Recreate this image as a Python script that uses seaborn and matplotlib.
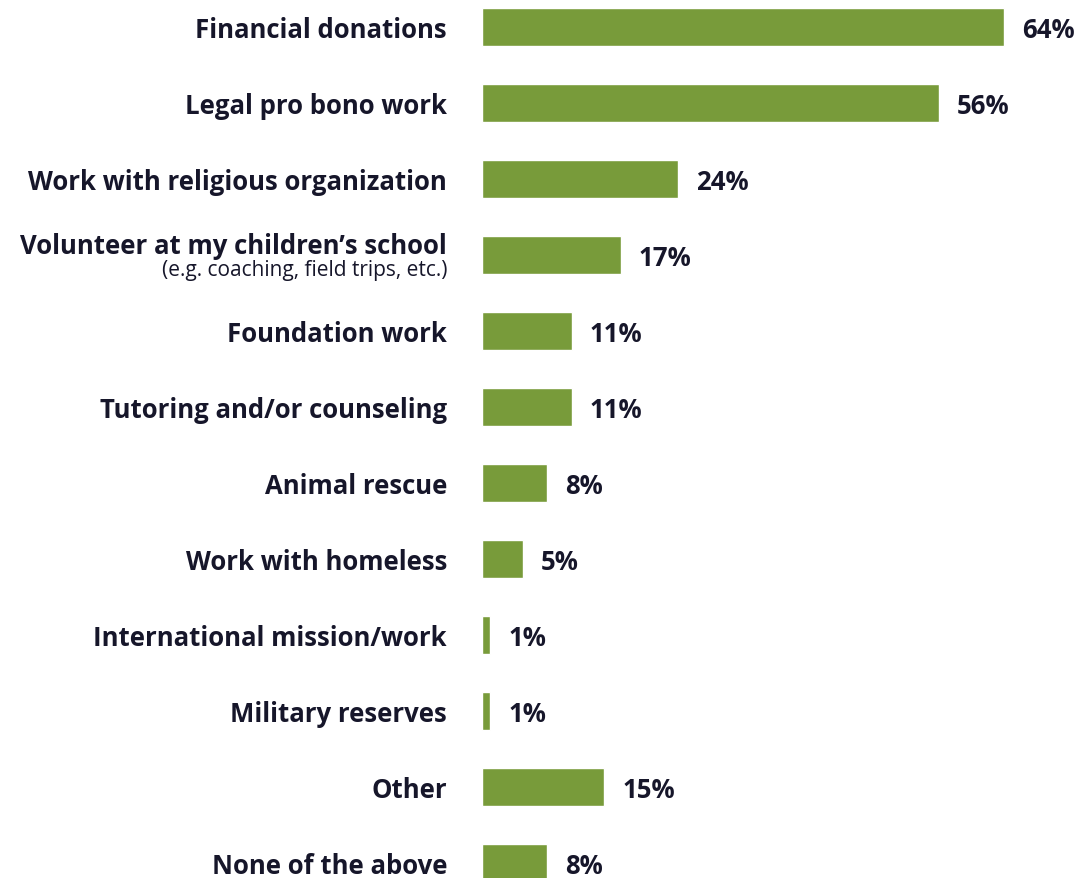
import matplotlib
matplotlib.use("Agg")
import matplotlib.pyplot as plt
import matplotlib.transforms as mtransforms
import seaborn as sns
import pandas as pd

categories = [
    "Financial donations",
    "Legal pro bono work",
    "Work with religious organization",
    "Volunteer at my children\u2019s school",
    "Foundation work",
    "Tutoring and/or counseling",
    "Animal rescue",
    "Work with homeless",
    "International mission/work",
    "Military reserves",
    "Other",
    "None of the above",
]
values = [64, 56, 24, 17, 11, 11, 8, 5, 1, 1, 15, 8]
notes = {"Volunteer at my children\u2019s school": "(e.g. coaching, field trips, etc.)"}

BAR = "#789b3a"
INK = "#16162a"
FONT = ["Open Sans", "DejaVu Sans"]

sns.set_theme(style="white")
plt.rcParams["font.family"] = FONT

df = pd.DataFrame({"category": categories, "value": values})

W, H = 1083, 879
fig = plt.figure(figsize=(W / 100, H / 100), dpi=100)
left_px = 482
ax = fig.add_axes([left_px / W, 0, 1 - left_px / W, 1])

sns.barplot(data=df, x="value", y="category", orient="h", color=BAR,
            saturation=1, width=0.5, ax=ax)

ax.set_xlim(0, 64 * (W - left_px) / (1004 - left_px))
ax.set_ylim((H - 28) / 76, -28 / 76)
ax.set_xlabel("")
ax.set_ylabel("")
ax.set_xticks([])
ax.set_yticks([])
for s in ax.spines.values():
    s.set_visible(False)

# category labels to the left of the bars, nudged slightly down
trans = mtransforms.blended_transform_factory(ax.transAxes, ax.transData)
offset = mtransforms.ScaledTranslation(-35 / 100, -2 / 100, fig.dpi_scale_trans)
label_kw = dict(ha="right", va="center", fontsize=18.5, fontweight="bold",
                color=INK)
for i, (cat, val) in enumerate(zip(categories, values)):
    if cat in notes:
        ax.text(0, i - 0.15, cat, transform=trans + offset, **label_kw)
        ax.text(0, i + 0.17, notes[cat], transform=trans + offset,
                ha="right", va="center", fontsize=15, color=INK)
    else:
        ax.text(0, i, cat, transform=trans + offset, **label_kw)
    ax.annotate(f"{val}%", (val, i), xytext=(13, -1.5), textcoords="offset points",
                ha="left", va="center", fontsize=18.5, fontweight="bold",
                color=INK)

fig.savefig("out.png", dpi=100, facecolor="white")
